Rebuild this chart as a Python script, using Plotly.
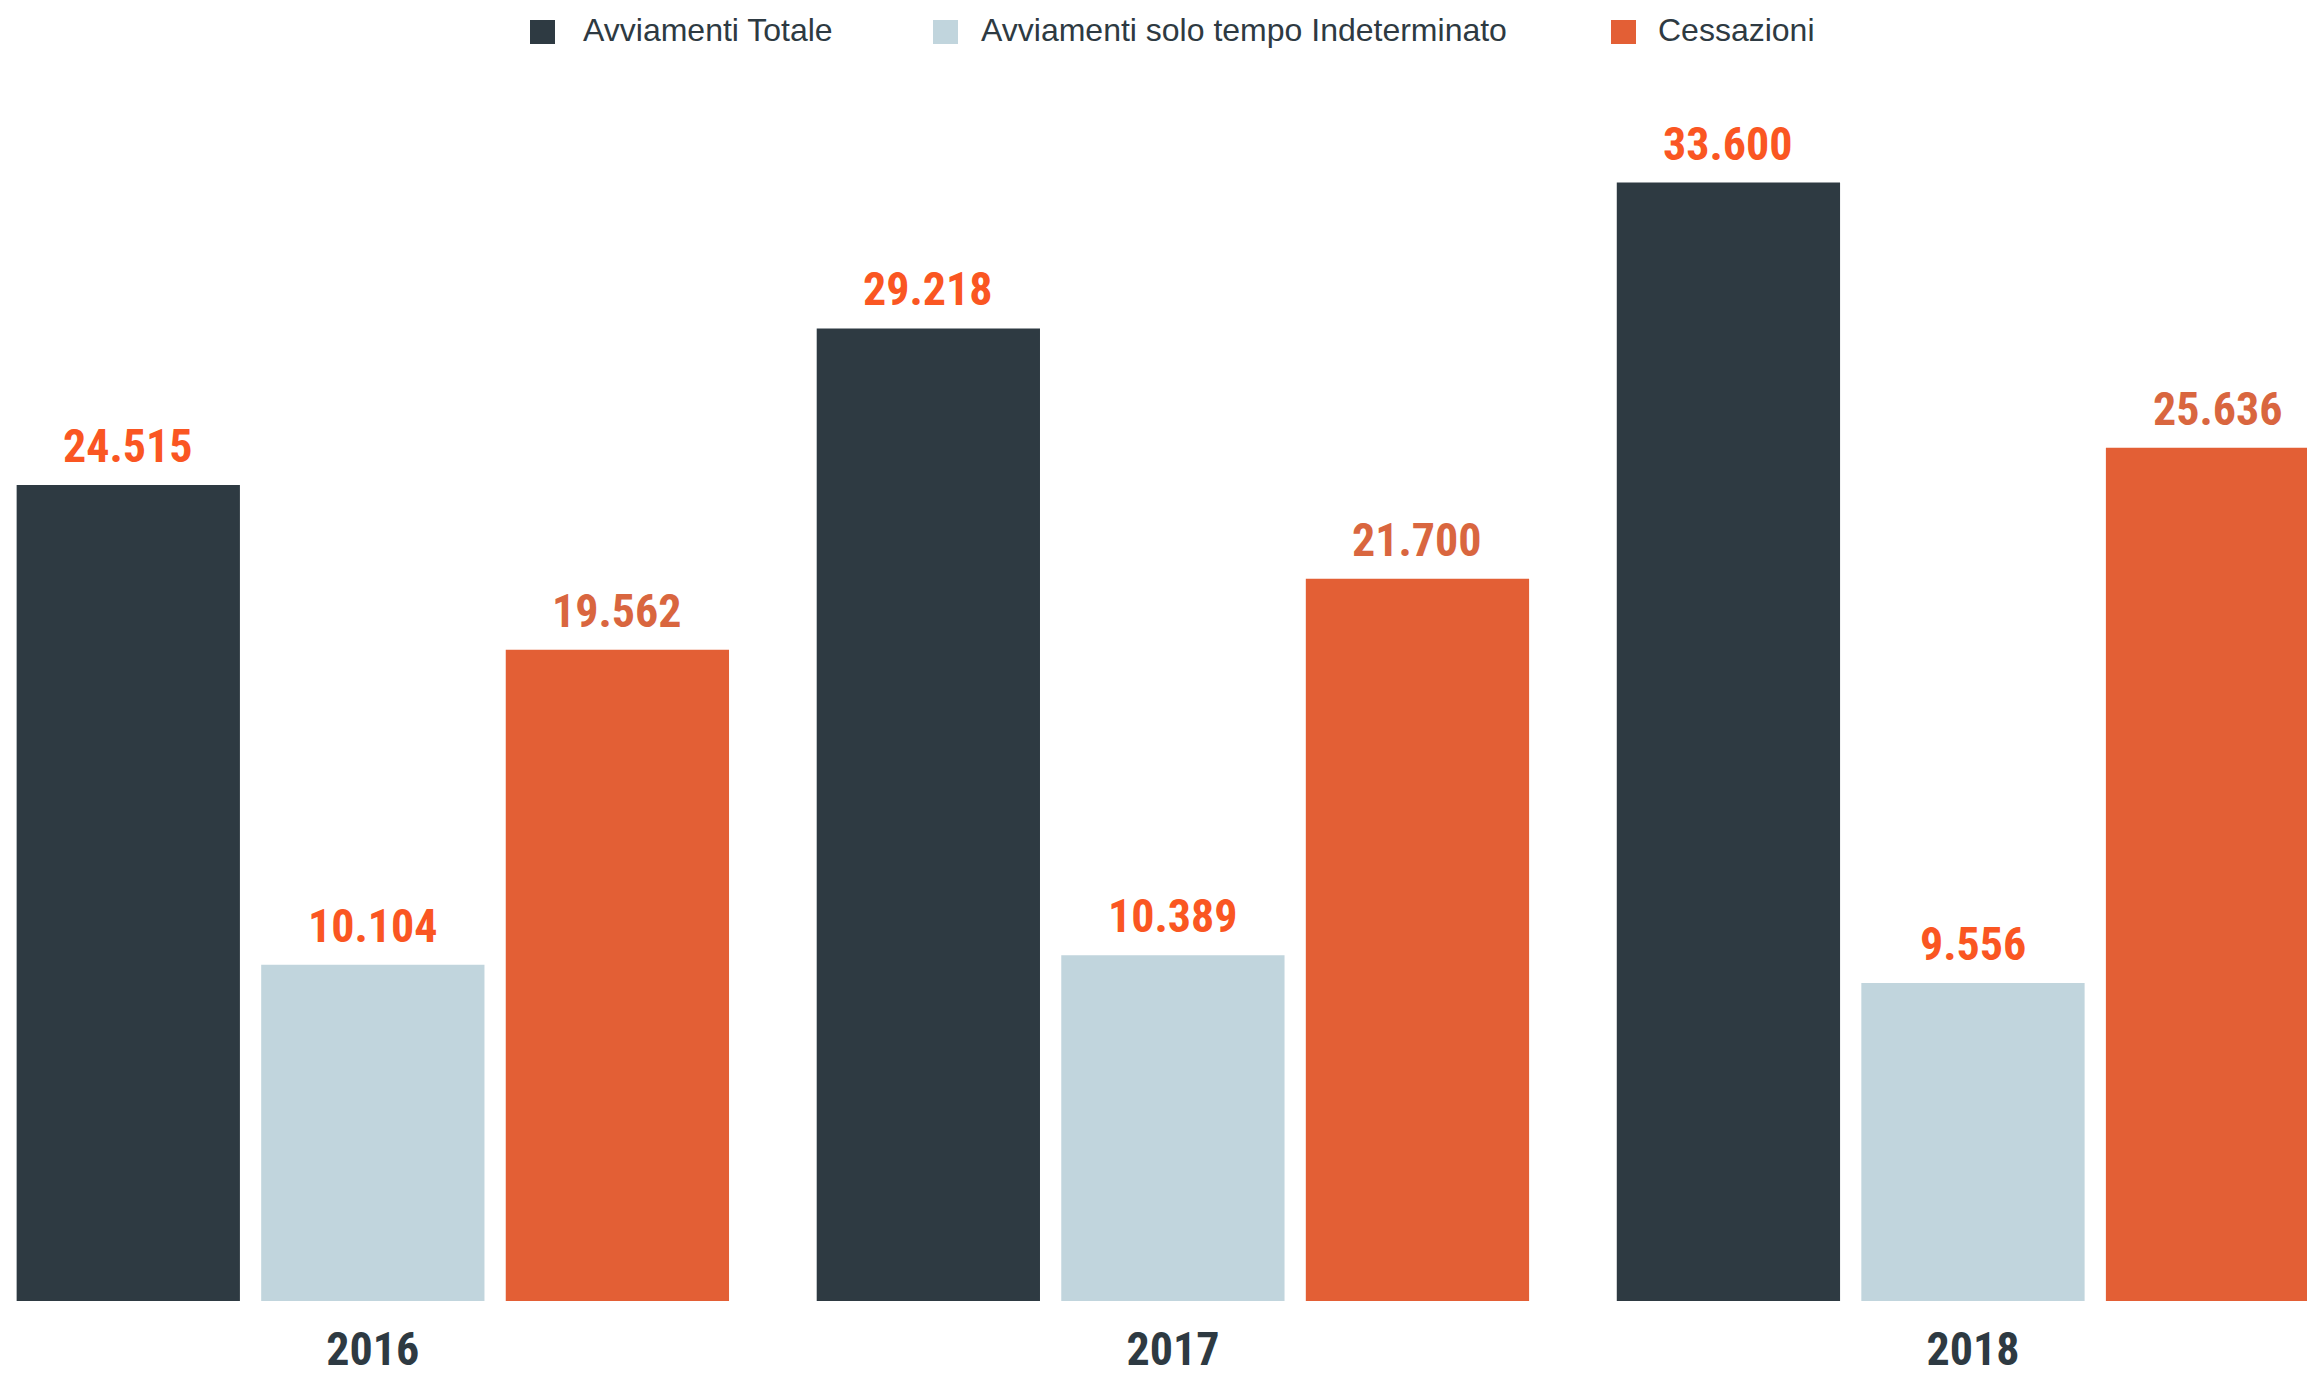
import plotly.graph_objects as go

# --- data -------------------------------------------------------------
years = ["2016", "2017", "2018"]
series_names = ["Avviamenti Totale", "Avviamenti solo tempo Indeterminato", "Cessazioni"]
avviamenti_totale = [24515, 29218, 33600]
avviamenti_indeterminato = [10104, 10389, 9556]
cessazioni = [19562, 21700, 25636]

# --- style ------------------------------------------------------------
bar_colors = ["#2e3a42", "#c1d5dd", "#e35f35"]
label_colors = ["#fa5622", "#fa5622", "#d9663f"]
text_dark = "#2e3a42"
label_font = "Liberation Sans Narrow, Roboto Condensed, DejaVu Sans Condensed, Arial Narrow, sans-serif"
legend_font = "Liberation Sans, Helvetica, Arial, sans-serif"

W, H = 2307, 1376
M_T, M_B = 100, 75
X_RANGE = [-0.466, 2.4175]
BARGAP, BARGROUPGAP = 0.083, 0.087

series_values = [avviamenti_totale, avviamenti_indeterminato, cessazioni]


def fmt_it(v):
    # Italian thousands separator
    return f"{v:,}".replace(",", ".")


fig = go.Figure()
for name, vals, col in zip(series_names, series_values, bar_colors):
    fig.add_trace(go.Bar(
        x=years, y=vals, name=name,
        marker=dict(color=col, line=dict(width=0)),
        showlegend=False,
    ))

# value labels above each bar, centred on the bar's slot inside its group
# (category axes take the category index for annotation positions)
px_per_cat = W / (X_RANGE[1] - X_RANGE[0])
slot_px = (1 - BARGAP) / len(series_names) * px_per_cat
for i, (vals, lcol) in enumerate(zip(series_values, label_colors)):
    shift = (i - (len(series_names) - 1) / 2) * slot_px
    for j, v in enumerate(vals):
        fig.add_annotation(
            x=j, y=v, xref="x", yref="y",
            xshift=shift, yshift=10,
            xanchor="center", yanchor="bottom", showarrow=False,
            text=fmt_it(v),
            font=dict(family=label_font, size=46, color=lcol, weight="bold"),
        )


# custom legend row with large square swatches
def px_x(p):
    return p / W


def px_y(p):
    return (H - M_B - p) / (H - M_B - M_T)


legend_square_left = [530, 933, 1611]
legend_text_left = [581, 979, 1656]
for name, col, sq, tx in zip(series_names, bar_colors, legend_square_left, legend_text_left):
    fig.add_shape(type="rect", xref="paper", yref="paper",
                  x0=px_x(sq), x1=px_x(sq + 25), y0=px_y(44), y1=px_y(20),
                  fillcolor=col, line=dict(width=0), layer="above")
    fig.add_annotation(xref="paper", yref="paper", x=px_x(tx), y=px_y(29.5),
                       xanchor="left", yanchor="middle", showarrow=False,
                       text=name, font=dict(family=legend_font, size=32, color=text_dark))

fig.update_layout(
    width=W, height=H,
    margin=dict(l=0, r=0, t=M_T, b=M_B, pad=0, autoexpand=False),
    paper_bgcolor="white", plot_bgcolor="white",
    barmode="group", bargap=BARGAP, bargroupgap=BARGROUPGAP,
    showlegend=False,
    xaxis=dict(type="category", range=X_RANGE, showgrid=False, automargin=False,
               showline=False, zeroline=False, ticks="", ticklabelstandoff=17,
               tickfont=dict(family=label_font, size=46, color=text_dark, weight="bold")),
    yaxis=dict(range=[0, 36080], visible=False, showgrid=False, zeroline=False,
               automargin=False),
)

fig.write_html("out.html")
